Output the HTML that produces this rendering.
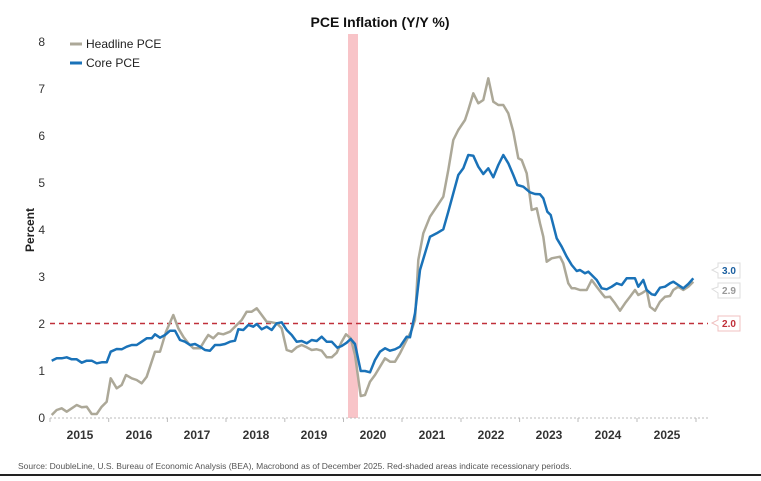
<!DOCTYPE html>
<html><head><meta charset="utf-8"><style>
body{margin:0;background:#fff;width:761px;height:476px;overflow:hidden;font-family:"Liberation Sans",sans-serif}
</style></head><body>
<svg width="761" height="476" xmlns="http://www.w3.org/2000/svg" font-family="Liberation Sans, sans-serif">
<rect x="348" y="34" width="10" height="384" fill="#f8c4c8"/>
<line x1="50" y1="418" x2="708" y2="418" stroke="#bbb" stroke-dasharray="2,2"/>
<g stroke="#bbb"><line x1="50" y1="418" x2="50" y2="422"/><line x1="108.7" y1="418" x2="108.7" y2="422"/><line x1="167.4" y1="418" x2="167.4" y2="422"/><line x1="226" y1="418" x2="226" y2="422"/><line x1="284.8" y1="418" x2="284.8" y2="422"/><line x1="343.5" y1="418" x2="343.5" y2="422"/><line x1="402" y1="418" x2="402" y2="422"/><line x1="461" y1="418" x2="461" y2="422"/><line x1="519.6" y1="418" x2="519.6" y2="422"/><line x1="578" y1="418" x2="578" y2="422"/><line x1="637" y1="418" x2="637" y2="422"/><line x1="696" y1="418" x2="696" y2="422"/></g>
<line x1="50" y1="323.5" x2="708" y2="323.5" stroke="#c0303a" stroke-width="1.5" stroke-dasharray="5,4"/>
<g font-size="12" fill="#333" text-anchor="end"><text x="45" y="422">0</text><text x="45" y="375">1</text><text x="45" y="328">2</text><text x="45" y="281">3</text><text x="45" y="234">4</text><text x="45" y="187">5</text><text x="45" y="140">6</text><text x="45" y="93">7</text><text x="45" y="46">8</text></g>
<g font-size="12" font-weight="bold" fill="#333" text-anchor="middle"><text x="80" y="439">2015</text><text x="139" y="439">2016</text><text x="197" y="439">2017</text><text x="256" y="439">2018</text><text x="314" y="439">2019</text><text x="373" y="439">2020</text><text x="432" y="439">2021</text><text x="491" y="439">2022</text><text x="549" y="439">2023</text><text x="608" y="439">2024</text><text x="667" y="439">2025</text></g>
<text x="34" y="230" font-size="12" font-weight="bold" fill="#222" text-anchor="middle" transform="rotate(-90 34 230)">Percent</text>
<text x="380" y="27" font-size="14" font-weight="bold" fill="#111" text-anchor="middle">PCE Inflation (Y/Y %)</text>
<line x1="70" y1="44" x2="82" y2="44" stroke="#aca898" stroke-width="3"/>
<text x="86" y="48" font-size="12" fill="#222">Headline PCE</text>
<line x1="70" y1="63" x2="82" y2="63" stroke="#1a72b8" stroke-width="3"/>
<text x="86" y="67" font-size="12" fill="#222">Core PCE</text>
<polyline id="h" fill="none" stroke="#aca898" stroke-width="2.5" stroke-linejoin="round"/>
<polyline id="c" fill="none" stroke="#1a72b8" stroke-width="2.5" stroke-linejoin="round"/>
<g font-size="10" font-weight="bold">
<path d="M718 263 H740 V278 H718 V273 L712 270 L718 267 Z" fill="#fff" stroke="#ddd"/><text x="729" y="274" fill="#1a5fa0" text-anchor="middle">3.0</text>
<path d="M718 283 H740 V298 H718 V293 L712 289 L718 287 Z" fill="#fff" stroke="#ddd"/><text x="729" y="294" fill="#999" text-anchor="middle">2.9</text>
<path d="M718 316 H740 V331 H718 V326 L712 323 L718 320 Z" fill="#fff" stroke="#f0c0c0"/><text x="729" y="327" fill="#c0303a" text-anchor="middle">2.0</text>
</g>
<text x="18" y="469" font-size="8.5" fill="#555">Source: DoubleLine, U.S. Bureau of Economic Analysis (BEA), Macrobond as of December 2025. Red-shaded areas indicate recessionary periods.</text>
<rect x="0" y="474" width="761" height="2" fill="#222"/>
</svg>
<script>
function cv(a,ox,oy){var r=[];for(var i=0;i<a.length;i+=2)r.push((ox+a[i]/3).toFixed(1)+','+(oy+a[i+1]/3).toFixed(1));return r;}
var h3=[35,435,50,420,65,415,80,425,110,405,125,412,140,410,155,432,170,432,185,410,200,395,212,325,230,355,245,345,258,315,275,325,290,330,305,340,320,320,345,245,360,245,378,185,400,135,415,175,430,200,445,220,460,235,480,235,495,210,505,195,520,205,535,190,550,193,570,185,590,165,605,150,620,125,635,125,650,115,665,135,680,155,695,157,710,160,725,175,740,240,755,245,770,232,785,225,800,232,815,240,830,238,845,242,860,262,875,262,890,248,905,215,918,193,932,205,945,255,962,378,975,375,990,335,1005,315,1020,290,1035,265,1050,275,1065,275,1080,250];
var h4=[200,840,215,810,225,780,235,600,250,520,270,470,290,440,310,410,325,330,340,240,355,210,375,180,385,150,400,100,415,130,430,120,445,55,460,125,475,135,490,135,505,160,520,215,535,295,545,300,560,340,575,450,590,445,600,490,610,530,620,605,635,595,660,590,670,610,685,670,695,685,705,685,720,690,740,690,755,660,770,680,785,700,795,712,810,710,825,730,840,752,855,730,870,710,885,690,895,705,905,700,920,690,930,740,945,752,960,725,975,710,990,708,1000,690,1015,680,1030,690,1045,680,1060,665];
var c3=[35,272,50,265,65,265,80,262,95,268,110,268,125,278,140,272,155,272,170,280,185,277,200,277,212,245,230,237,245,238,260,230,275,225,290,225,305,215,320,205,335,205,345,193,360,203,375,195,390,182,405,182,420,210,435,215,450,225,465,222,480,230,495,240,510,242,525,225,540,225,555,222,570,215,585,212,595,178,610,180,625,165,640,170,650,162,665,178,680,170,695,180,710,160,725,157,740,180,755,195,770,215,785,213,800,220,815,210,830,213,845,200,860,215,875,215,892,233,905,228,920,218,932,207,945,222,962,303,975,303,990,307,1005,270,1020,245,1035,235,1050,242,1065,238,1080,230];
var c4=[200,830,210,832,225,760,240,630,255,580,270,530,290,520,310,508,325,455,340,400,355,345,370,325,385,285,400,287,415,320,430,342,445,325,460,352,475,315,490,285,505,310,520,345,532,375,550,380,570,397,585,402,600,403,610,415,622,455,632,465,650,535,665,560,680,590,695,615,710,633,720,630,735,640,745,635,755,645,770,660,785,685,800,688,815,680,830,670,845,675,860,655,885,655,895,680,910,660,920,690,935,703,945,705,960,683,975,680,990,670,1000,665,1015,675,1030,685,1045,672,1060,655];
document.getElementById('h').setAttribute('points',cv(h3,40,270).concat(cv(h4,340,60)).join(' '));
document.getElementById('c').setAttribute('points',cv(c3,40,270).concat(cv(c4,340,60)).join(' '));
</script>
</body></html>
